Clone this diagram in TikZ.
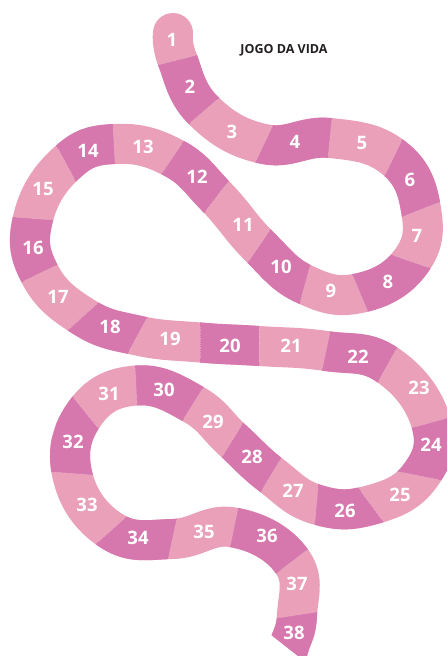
\documentclass[tikz,border=0pt]{standalone}
\usepackage{fontspec}
\setmainfont{Open Sans}
\usetikzlibrary{calc}
\definecolor{lightpk}{HTML}{E9A0B8}
\definecolor{darkpk}{HTML}{D678AD}
\definecolor{titlegray}{HTML}{231F20}
\newcommand\snakeband[1]{\draw[#1] plot[smooth,tension=0.75] coordinates {(173,33) (177.5,60) (204,111) (264,144) (330,138) (393.5,157.5) (421,209.5) (411,261.5) (360,293) (305,284.5) (259,246) (216.5,197) (172.5,157.5) (114,144) (66,163.5) (33,218.5) (39.5,273.5) (83,316.5) (137.5,335.5) (200,342.5) (259,346) (326,351) (387.5,365) (431,422.5) (420,476) (371,505) (316.5,504.5) (271,475) (232.5,440) (193,404) (136,385.5) (85.5,412.5) (72,473.5) (111,530.5) (172.5,539) (234,527.5) (292,561.5) (297,615) (288,650) (278,690)};}
\tikzset{
  band/.style={line width=40pt},
  seam/.style={white, opacity=0.3, line width=0.8pt, densely dotted},
  num/.style={text=white, inner sep=0pt, font=\bfseries\fontsize{18.5}{18.5}\selectfont},
  titletext/.style={text=titlegray, inner sep=0pt, font=\bfseries\fontsize{12.5}{12.5}\selectfont}
}
\begin{document}
\begin{tikzpicture}[x=1pt,y=-1pt]
\useasboundingbox (0,0) rectangle (447,656);
\foreach \i/\lx/\ly/\rx/\ry in {
 1/197/55/158/65, 2/218/99/190/123, 3/273/125/255/163, 4/332/118/328/158,
 5/402/140/385/175, 6/440/202/402/217, 7/430/268/392/255, 8/368/312/352/274,
 9/300/303/310/266, 10/248/262/270/230, 11/205/212/228/182, 12/162/173/183/142,
 13/115/163/113/125, 14/75/180/57/147, 15/53/220/13/217, 16/57/265/22/282,
 17/98/303/68/330, 18/147/318/128/353, 19/200/325/200/360, 20/259/327/259/365,
 21/330/332/322/370, 22/397/348/378/382, 23/447/418/415/427, 24/440/480/400/472,
 25/382/520/360/490, 26/315/522/318/487, 27/262/490/280/460, 28/222/457/243/423,
 29/183/420/203/388, 30/137/405/135/366, 31/98/428/73/397, 32/92/475/52/472,
 33/125/518/97/543, 34/177/518/168/560, 35/238/508/230/547, 36/307/550/277/573,
 37/317/612/277/618}{
  \coordinate (L\i) at (\lx,\ly);
  \coordinate (R\i) at (\rx,\ry);
}
\begin{scope}
\clip (0,0) -- (447,0) -- (447,656) -- (298,656) -- (256,623) -- (0,623) -- cycle;
\snakeband{band, lightpk}
\fill[lightpk] (173,33) circle[radius=20pt];
\foreach \k in {2,4,...,36}{
  \pgfmathtruncatemacro\j{\k-1}
  \begin{scope}
    \clip ($(L\j)!-0.25!(R\j)$) -- ($(L\j)!1.25!(R\j)$) -- ($(L\k)!1.25!(R\k)$) -- ($(L\k)!-0.25!(R\k)$) -- cycle;
    \snakeband{band, darkpk}
  \end{scope}
}
\begin{scope}
  \clip ($(L37)!-0.25!(R37)$) -- ($(L37)!1.25!(R37)$) -- (240,720) -- (340,720) -- cycle;
  \snakeband{band, darkpk}
\end{scope}
\foreach \i in {1,...,37}{
  \draw[seam] ($(L\i)!0.05!(R\i)$) -- ($(L\i)!0.95!(R\i)$);
}
\end{scope}
\foreach \n/\x/\y in {1/172/40, 2/190/87, 3/232/132, 4/295/142, 5/362/143, 6/410/180,
 7/417/236, 8/388/282, 9/331/291, 10/281/267, 11/243/225, 12/197/177, 13/143/147,
 14/88/151, 15/43/189, 16/33/248, 17/58/297, 18/110/327, 19/170/339, 20/230/346,
 21/291/346, 22/358/357, 23/419/388, 24/431/445, 25/400/495, 26/345/511, 27/293/491,
 28/252/457, 29/213/422, 30/164/390, 31/109/394, 32/73/442, 33/87/505, 34/138/538,
 35/204/532, 36/267/536, 37/297/584, 38/294/633}{
  \node[num] (n\n) at (\x,\y) {\n};
}
\node[titletext] (title) at (284,50) {JOGO DA VIDA};
\end{tikzpicture}
\end{document}
